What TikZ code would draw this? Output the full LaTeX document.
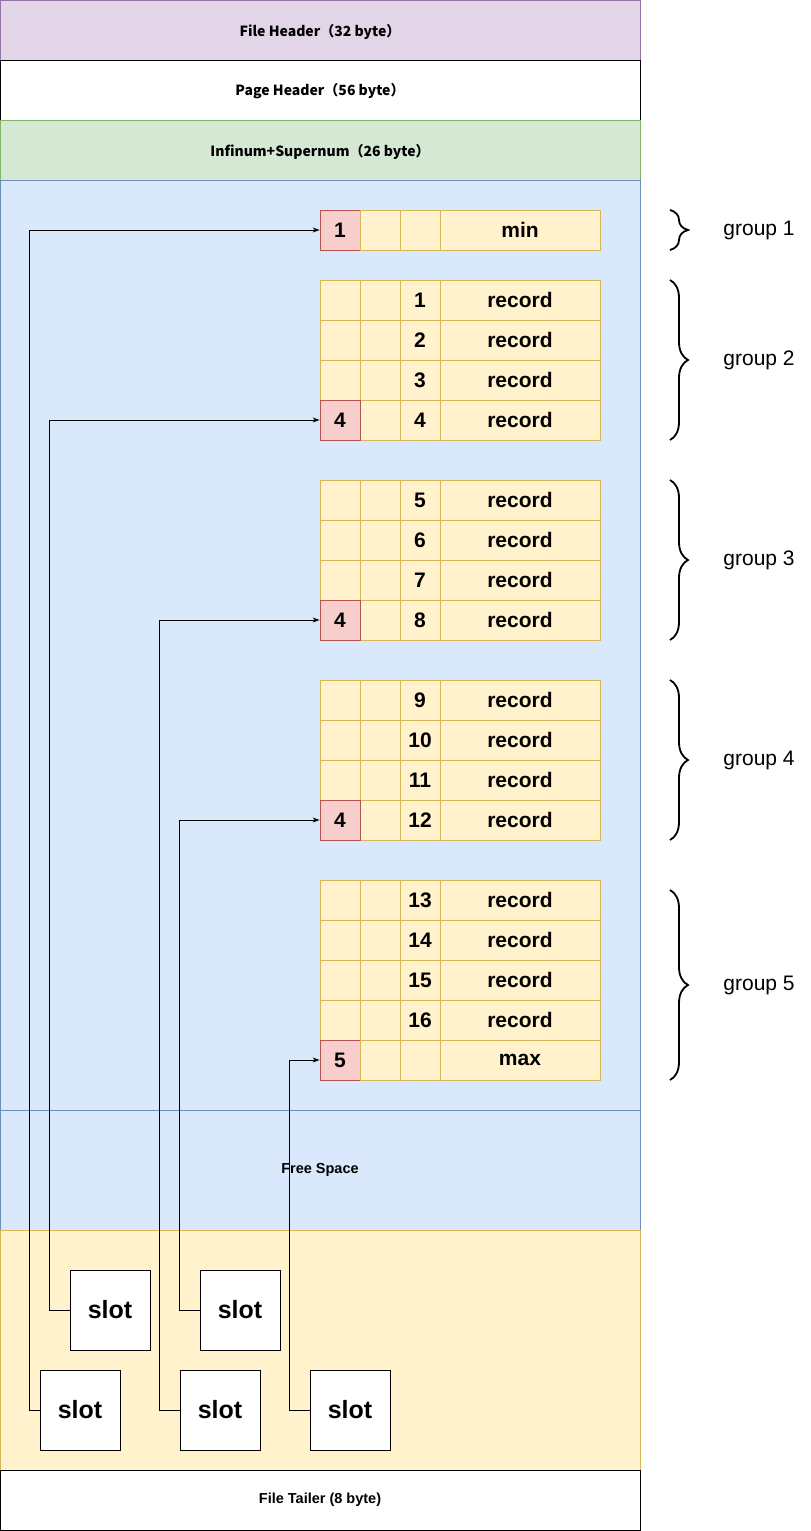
\documentclass[tikz,border=0pt]{standalone}
\usepackage{fontspec}
\setmainfont{Liberation Sans}
\newfontfamily\cjk{Noto Sans CJK SC}
\usetikzlibrary{decorations.pathreplacing, arrows.meta}

\definecolor{purplefill}{HTML}{E1D5E7}
\definecolor{purpledraw}{HTML}{9673A6}
\definecolor{greenfill}{HTML}{D5E8D4}
\definecolor{greendraw}{HTML}{82B366}
\definecolor{bluefill}{HTML}{DAE8FC}
\definecolor{bluedraw}{HTML}{6C8EBF}
\definecolor{cellfill}{HTML}{FFF2CC}
\definecolor{celldraw}{HTML}{D6B656}
\definecolor{redfill}{HTML}{F8CECC}
\definecolor{reddraw}{HTML}{B85450}

\begin{document}
\begin{tikzpicture}[x=1pt, y=-1pt, line width=0.8pt,
  band/.style={draw, minimum width=640pt, inner sep=0pt, font=\cjk\bfseries\fontsize{14}{16}\selectfont},
  hdrtext/.style={label={[font=\cjk\bfseries\fontsize{14}{16}\selectfont, yshift=-1.5pt]center:#1}},
  plainband/.style={band, font=\bfseries\fontsize{14.5}{16}\selectfont},
  cell/.style={draw=celldraw, fill=cellfill, minimum width=40pt, minimum height=40pt, inner sep=0pt, font=\bfseries\fontsize{21}{24}\selectfont},
  wide/.style={minimum width=160pt},
  owner/.style={cell, draw=reddraw, fill=redfill},
  slot/.style={draw, fill=white, minimum width=80pt, minimum height=80pt, inner sep=0pt, font=\bfseries\fontsize{25}{28}\selectfont},
  conn/.style={-{Stealth[length=7pt, width=5pt]}},
  grpbrace/.style={decorate, decoration={brace, amplitude=18pt}, line width=1.8pt},
  grplabel/.style={anchor=west, inner sep=0pt, font=\fontsize{21}{24}\selectfont}]
\useasboundingbox (0,0) rectangle (811,1531);

% page parts
\node[band, minimum height=60pt, fill=purplefill, draw=purpledraw, hdrtext={File Header（32 byte）}] (filehdr) at (320,30) {};
\node[band, minimum height=60pt, fill=white, hdrtext={Page Header（56 byte）}] (pagehdr) at (320,90) {};
\node[band, minimum height=60pt, fill=greenfill, draw=greendraw, hdrtext={Infinum+Supernum（26 byte）}] (infsup) at (320,150) {};
\node[band, minimum height=930pt, fill=bluefill, draw=bluedraw] (userrec) at (320,645) {};
\node[plainband, minimum height=120pt, fill=bluefill, draw=bluedraw] (free) at (320,1170) {Free Space};
\node[band, minimum height=240pt, fill=cellfill, draw=celldraw] (pagedir) at (320,1350) {};
\node[plainband, minimum height=60pt, fill=white] (tailer) at (320,1500) {File Tailer (8 byte)};

% group 1
\node[owner] (own1) at (340,230) {1};
\node[cell] at (380,230) {};
\node[cell] at (420,230) {};
\node[cell, wide] (min) at (520,230) {min};

% records
\foreach \yy/\num in {300/1, 340/2, 380/3, 420/4, 500/5, 540/6, 580/7, 620/8,
                      700/9, 740/10, 780/11, 820/12, 900/13, 940/14, 980/15, 1020/16} {
  \node[cell] at (340,\yy) {};
  \node[cell] at (380,\yy) {};
  \node[cell] (n\num) at (420,\yy) {\num};
  \node[cell, wide] (r\num) at (520,\yy) {record};
}
\node[owner] (own2) at (340,420) {4};
\node[owner] (own3) at (340,620) {4};
\node[owner] (own4) at (340,820) {4};

% group 5 end
\node[owner] (own5) at (340,1060) {5};
\node[cell] at (380,1060) {};
\node[cell] at (420,1060) {};
\node[cell, wide] (max) at (520,1060) {max};

% braces
\draw[grpbrace] (670,210) -- (670,250);
\draw[grpbrace] (670,280) -- (670,440);
\draw[grpbrace] (670,480) -- (670,640);
\draw[grpbrace] (670,680) -- (670,840);
\draw[grpbrace] (670,890) -- (670,1080);
\node[grplabel] (g1) at (723,230) {group 1};
\node[grplabel] (g2) at (723,360) {group 2};
\node[grplabel] (g3) at (723,560) {group 3};
\node[grplabel] (g4) at (723,760) {group 4};
\node[grplabel] (g5) at (723,985) {group 5};

% slots
\node[slot] (slot1) at (80,1410) {slot};
\node[slot] (slot2) at (110,1310) {slot};
\node[slot] (slot3) at (220,1410) {slot};
\node[slot] (slot4) at (240,1310) {slot};
\node[slot] (slot5) at (350,1410) {slot};

\draw[conn] (slot1.west) -- ++(-10,0) |- (own1.west);
\draw[conn] (slot2.west) -- ++(-20,0) |- (own2.west);
\draw[conn] (slot3.west) -- ++(-20,0) |- (own3.west);
\draw[conn] (slot4.west) -- ++(-20,0) |- (own4.west);
\draw[conn] (slot5.west) -- ++(-20,0) |- (own5.west);
\end{tikzpicture}
\end{document}
